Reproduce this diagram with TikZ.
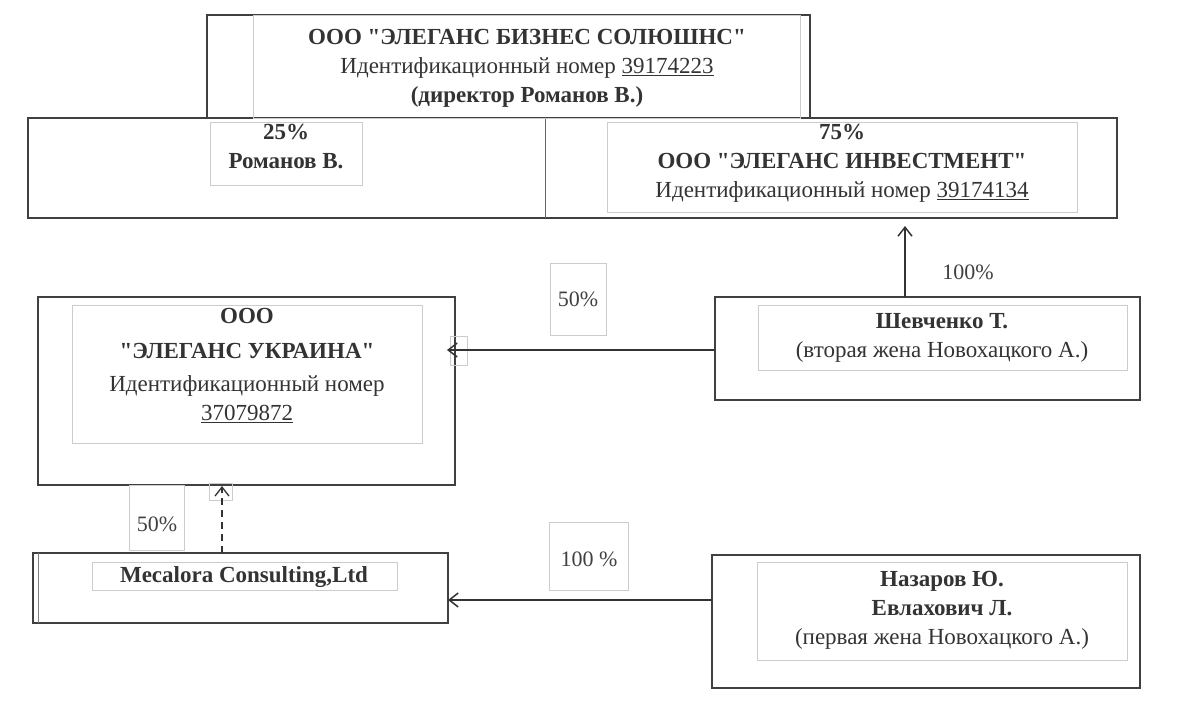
\documentclass[tikz,border=0pt]{standalone}
\usepackage{fontspec}
\setmainfont{Liberation Serif}[Ligatures=TeXOff]
\usetikzlibrary{arrows.meta}
\newcommand{\qq}{\symbol{34}}
\begin{document}
\begin{tikzpicture}[x=1pt,y=-1pt,
  frame/.style={draw=black!75,line width=1.3pt},
  inner/.style={draw=black!20,line width=0.6pt},
  txt/.style={align=center,font=\fontsize{23}{29}\selectfont,text=black!80},
  lab/.style={draw=black!20,line width=0.6pt,font=\fontsize{22}{26}\selectfont,text=black!75,minimum width=56pt,minimum height=70pt,inner sep=0pt},
  arr/.style={-{Straight Barb[length=9pt,width=14pt]},line width=1.5pt,draw=black!80}]
\useasboundingbox (0,0) rectangle (1200,702);
\draw[frame] (207,15) rectangle (810,118);
\draw[frame] (28,118) rectangle (1117,218);
\draw[black!60,line width=0.8pt] (545,118) -- (545,218);
\draw[frame] (38,297) rectangle (455,485);
\draw[frame] (715,297) rectangle (1140,400);
\draw[frame] (33,553) rectangle (448,623);
\draw[black!50] (38,553) -- (38,623);
\draw[frame] (712,555) rectangle (1140,688);
% inner gray boxes
\draw[inner] (253,15) rectangle (800,118);
\draw[inner] (210,122) rectangle (362,185);
\draw[inner] (607,122) rectangle (1077,212);
\draw[inner] (72,305) rectangle (422,443);
\draw[inner] (758,305) rectangle (1127,370);
\draw[inner] (92,562) rectangle (397,590);
\draw[inner] (757,562) rectangle (1127,660);
\draw[inner] (450,336) rectangle (467,365);
\draw[inner] (209,483) rectangle (232,500);
% texts
\node[txt] (top) at (527,68) {\textbf{ООО \qq ЭЛЕГАНС БИЗНЕС СОЛЮШНС\qq}\\Идентификационный номер \underline{39174223}\\\textbf{(директор Романов В.)}};
\node[txt,anchor=north] (rom) at (286,121) {\textbf{25\%}\\\textbf{Романов В.}};
\node[txt,anchor=north] (inv) at (842,121) {\textbf{75\%}\\\textbf{ООО \qq ЭЛЕГАНС ИНВЕСТМЕНТ\qq}\\Идентификационный номер \underline{39174134}};
\node[txt,anchor=north] (ukr) at (247,305) {\textbf{ООО}\\[6pt]\textbf{\qq ЭЛЕГАНС УКРАИНА\qq}\\[4pt]Идентификационный номер\\\underline{37079872}};
\node[txt] (shev) at (942,338) {\textbf{Шевченко Т.}\\(вторая жена Новохацкого А.)};
\node[txt] (mec) at (244,577) {\textbf{Mecalora Consulting,Ltd}};
\node[txt] (naz) at (942,610) {\textbf{Назаров Ю.}\\\textbf{Евлахович Л.}\\(первая жена Новохацкого А.)};
% coordinates
\coordinate (s1) at (715,350); \coordinate (e1) at (447,350);
\coordinate (s2) at (905,297); \coordinate (e2) at (905,226);
\coordinate (s3) at (222,553); \coordinate (e3) at (222,486);
\coordinate (s4) at (712,600); \coordinate (e4) at (448,600);
\draw[arr] (s1) -- (e1);
\draw[arr] (s2) -- (e2);
\draw[arr,dash pattern=on 7pt off 5pt,line width=1.3pt] (s3) -- (e3);
\draw[arr] (s4) -- (e4);
% labels
\node[lab,minimum height=72pt] (l1) at (578,299) {\raisebox{-14pt}{50\%}};
\node[lab,draw=none] (l2) at (968,272) {100\%};
\node[lab,minimum width=55pt,minimum height=65pt] (l3) at (157,518) {\raisebox{-28pt}{50\%}};
\node[lab,minimum width=79pt,minimum height=68pt] (l4) at (589,556) {\raisebox{-22pt}{100 \%}};
\end{tikzpicture}
\end{document}
